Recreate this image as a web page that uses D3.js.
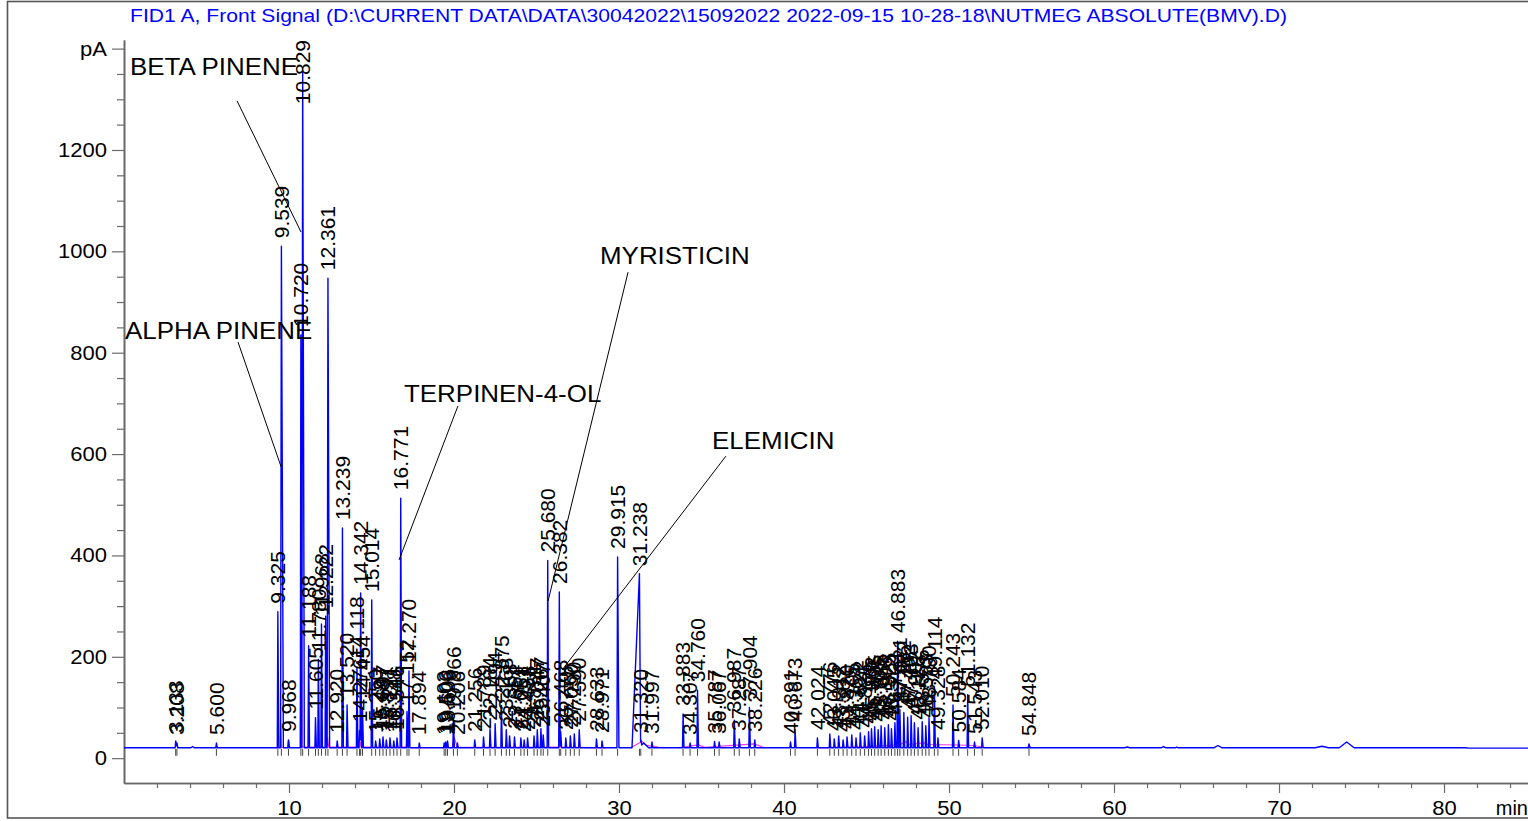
<!DOCTYPE html>
<html><head><meta charset="utf-8">
<script src="https://cdn.jsdelivr.net/npm/d3@7"></script>
<style>
body{margin:0;background:#fff}
svg{display:block}
text{font-family:"Liberation Sans",Arial,Helvetica,sans-serif}
</style>
</head><body>
<svg id="chart" width="1528" height="821"></svg>
<script>
// ---------------- DATA ----------------
const titleText = "FID1 A, Front Signal (D:\\CURRENT DATA\\DATA\\30042022\\15092022 2022-09-15 10-28-18\\NUTMEG ABSOLUTE(BMV).D)";
const yTickValues = [0, 200, 400, 600, 800, 1000, 1200, 1400];
const yTickLabels = ["0", "200", "400", "600", "800", "1000", "1200", "pA"];
const xTickValues = [10, 20, 30, 40, 50, 60, 70, 80];
const xUnit = "min";

// labelled peaks: retention time (min) and apex signal (pA)
const peakRT = [3.133,3.208,5.600,
  9.325,9.539,9.968,10.720,10.829,11.188,11.605,11.780,11.968,12.222,12.361,12.920,13.239,13.520,14.118,14.276,14.342,14.454,15.014,15.250,15.497,15.697,15.897,16.121,16.348,16.546,16.771,17.152,17.270,17.894,
  19.403,19.500,19.606,19.966,20.206,21.256,21.789,22.184,22.494,22.875,23.168,23.368,23.664,24.051,24.251,24.458,24.851,25.047,25.267,25.407,25.680,26.382,26.468,26.775,27.050,27.290,27.590,28.633,28.971,29.915,31.238,31.320,31.997,
  33.883,34.307,34.760,35.787,36.067,36.987,37.287,37.904,38.226,
  40.391,40.673,42.024,42.776,43.045,43.312,43.582,43.820,44.105,44.364,44.622,44.885,45.125,45.302,45.495,45.705,45.885,46.105,46.325,46.512,46.721,46.883,47.021,47.262,47.492,47.703,47.902,48.126,48.376,48.593,48.790,49.114,49.328,50.243,50.584,51.132,51.543,52.010,54.848];
const peakHeight = [34,30,30,
  289,1010,36,835,1354,222,80,195,265,280,947,34,454,105,180,55,326,100,312,34,38,42,36,40,34,40,513,92,172,30,
  30,32,34,78,30,36,42,58,68,100,56,44,42,40,36,40,44,56,58,46,390,328,52,40,44,48,56,38,34,397,363,34,32,
  87,30,134,33,32,75,38,100,36,
  32,56,40,48,38,44,36,42,46,40,50,44,52,58,62,56,64,60,66,58,70,231,96,90,81,84,70,60,72,64,80,140,40,105,35,125,32,40,28];

// peaks with a non-default shape (left / right half width, min)
const shapeRT    = [9.539, 10.829, 12.361, 29.915, 31.238];
const shapeLeft  = [0.05,  0.05,   0.05,   0.04,   0.45];
const shapeRight = [0.12,  0.10,   0.10,   0.08,   0.07];

// small unlabelled bumps
const bumpRT     = [4.16, 31.50, 60.8, 63.0, 63.8, 66.3, 72.6, 74.1];
const bumpHeight = [23,   30,    22,   23,   22,   25,   23.5, 32];
const bumpWidth  = [0.10, 0.30,  0.15, 0.15, 0.10, 0.25, 0.40, 0.45];

// detector baseline
const baseRT    = [0, 81.3, 81.5, 85.09];
const baseValue = [20.5, 20.5, 19.8, 19.8];

// integration baselines (magenta), one polyline per cluster
const magentaClusters = [
  [[9.20,20.5],[9.47,21],[9.50,69],[9.55,21],[9.92,21],[9.97,36],[10.05,21],[10.69,21],[10.74,377],[10.79,22],[12.29,22],[12.33,42],[12.40,22],[14.29,22],[14.33,32],[14.40,22],[17.10,22],[17.15,36],[17.25,21],[18.0,20.5]],
  [[19.3,20.5],[19.9,21],[20.0,42],[20.2,22],[24.0,21.5],[26.4,22],[29.2,20.5]],
  [[30.70,20.5],[31.40,33],[31.60,26],[32.40,22]],
  [[33.6,20.5],[34.8,26],[35.2,21.5],[38.2,28],[38.8,20.5]],
  [[42.0,20.5],[45.0,23],[46.85,26],[46.9,42],[46.95,26],[47.4,33],[47.5,27],[48.5,30],[48.7,27],[50.5,26],[51.5,25],[52.3,20.5]],
  [[54.75,20.5],[54.85,26],[54.95,20.5]]
];

// compound annotations: label anchor and leader line (min, pA)
const annNames  = ["BETA PINENE", "ALPHA PINENE", "TERPINEN-4-OL", "MYRISTICIN", "ELEMICIN"];
const annLabel  = [[0.36,1348], [0.06,827], [16.97,703], [28.85,975], [35.64,610]];
const annFrom   = [[6.85,1297], [6.91,821], [20.24,695], [30.55,959], [36.48,596]];
const annTo     = [[10.73,1038],[9.52,575], [16.67,391], [25.70,310], [26.55,174]];

// ---------------- CHART ----------------
const svg = d3.select("#chart");
const x = d3.scaleLinear().domain([0, 85.09]).range([124, 1528]);
const y = d3.scaleLinear().domain([-49, 1417]).range([783, 40]);
const axisColor = "#6a6a6a";
const STRETCH = 1.1;   // the plotted font is slightly wider than Arial

function stretch(sel, f){
  sel.each(function(){
    const len = this.getComputedTextLength();
    d3.select(this).attr("textLength", len * f).attr("lengthAdjust", "spacingAndGlyphs");
  });
}

// outer frame
svg.append("rect").attr("x", 7.5).attr("y", 1.5).attr("width", 1535).attr("height", 816.5)
  .attr("fill", "none").attr("stroke", "#555").attr("stroke-width", 1.6);

// title
svg.append("text").attr("x", 130).attr("y", 21.5).attr("fill", "#0000ff")
  .attr("font-size", 19).text(titleText)
  .attr("textLength", 1157).attr("lengthAdjust", "spacingAndGlyphs");

// axes
function styleAxis(g){
  g.select(".domain").attr("stroke", axisColor).attr("stroke-width", 1.6);
  g.selectAll(".tick line").attr("stroke", axisColor).attr("stroke-width", 1.2);
  g.selectAll(".tick text").attr("fill", "#000").attr("font-family", '"Liberation Sans",Arial,sans-serif');
}
const yMinor = d3.range(0, 1401, 50).filter(v => v % 200 !== 0);
svg.append("g").attr("transform", "translate(124,0)")
  .call(d3.axisLeft(y).tickValues(yMinor).tickSize(7).tickSizeOuter(0).tickFormat(""))
  .call(styleAxis);
svg.append("g").attr("transform", "translate(124,0)")
  .call(d3.axisLeft(y).tickValues(yTickValues).tickSize(12).tickSizeOuter(0).tickPadding(5)
    .tickFormat((d, i) => yTickLabels[i]))
  .call(styleAxis)
  .call(g => g.selectAll(".tick text").attr("font-size", 20).call(stretch, STRETCH));

const xMinor = d3.range(2, 85, 2).filter(v => v % 10 !== 0);
svg.append("g").attr("transform", "translate(0,783)")
  .call(d3.axisBottom(x).tickValues(xMinor).tickSize(5).tickSizeOuter(0).tickFormat(""))
  .call(styleAxis);
svg.append("g").attr("transform", "translate(0,783)")
  .call(d3.axisBottom(x).tickValues(xTickValues).tickSize(10).tickSizeOuter(0).tickPadding(8))
  .call(styleAxis)
  .call(g => g.selectAll(".tick text").attr("font-size", 20).call(stretch, STRETCH));
svg.append("text").attr("x", x.range()[1]).attr("y", 815).attr("font-size", 20)
  .attr("text-anchor", "end").attr("fill", "#000").text(xUnit);

// signal trace
function baseAt(t){
  for (let i = 1; i < baseRT.length; i++) {
    if (t <= baseRT[i]) {
      const f = (t - baseRT[i-1]) / (baseRT[i] - baseRT[i-1]);
      return baseValue[i-1] + f * (baseValue[i] - baseValue[i-1]);
    }
  }
  return baseValue[baseValue.length - 1];
}
const shapes = peakRT.map((rt, i) => {
  const k = shapeRT.indexOf(rt);
  return {c: rt, amp: peakHeight[i] - baseAt(rt),
    wl: k >= 0 ? shapeLeft[k] : 0.035, wr: k >= 0 ? shapeRight[k] : 0.055};
}).concat(bumpRT.map((rt, i) => ({c: rt, amp: bumpHeight[i] - baseAt(rt), wl: bumpWidth[i], wr: bumpWidth[i]})));

function signalAt(t){
  let s = baseAt(t);
  for (const p of shapes) {
    if (t >= p.c - p.wl && t <= p.c) s += p.amp * (1 - (p.c - t) / p.wl);
    else if (t > p.c && t <= p.c + p.wr) s += p.amp * (1 - (t - p.c) / p.wr);
  }
  return s;
}
let knots = baseRT.slice();
shapes.forEach(p => knots.push(p.c - p.wl, p.c, p.c + p.wr));
knots = Array.from(new Set(knots.map(k => +k.toFixed(4)))).sort((a, b) => a - b)
  .filter(k => k >= 0 && k <= 85.09);
const trace = knots.map(t => [t, signalAt(t)]);

const line = d3.line().x(d => x(d[0])).y(d => y(d[1]));

// integration baselines
svg.append("g").selectAll("path").data(magentaClusters).join("path")
  .attr("d", line).attr("fill", "none").attr("stroke", "#f03cf0").attr("stroke-width", 1.2);

svg.append("path").attr("d", line(trace)).attr("fill", "none")
  .attr("stroke", "#0000ff").attr("stroke-width", 1.4).attr("stroke-linejoin", "round");

// event ticks under the baseline
svg.append("g").selectAll("line").data(peakRT).join("line")
  .attr("x1", d => x(d)).attr("x2", d => x(d))
  .attr("y1", d => y(baseAt(d)) + 1).attr("y2", d => y(baseAt(d)) + 8)
  .attr("stroke", "#444").attr("stroke-width", 1);

// peak retention-time labels
const labelG = svg.append("g");
peakRT.forEach((rt, i) => {
  const t = labelG.append("text").attr("font-size", 20).attr("fill", "#000")
    .attr("dy", "0.36em").text(rt.toFixed(3));
  const len = t.node().getComputedTextLength() * 1.05;
  t.attr("textLength", len).attr("lengthAdjust", "spacingAndGlyphs");
  let yb = y(peakHeight[i]) - 8;
  if (yb - len < y.range()[1]) yb = y.range()[1] + len;
  t.attr("transform", `translate(${x(rt)},${yb}) rotate(-90)`);
});

// compound annotations
const annG = svg.append("g");
annNames.forEach((name, i) => {
  annG.append("line")
    .attr("x1", x(annFrom[i][0])).attr("y1", y(annFrom[i][1]))
    .attr("x2", x(annTo[i][0])).attr("y2", y(annTo[i][1]))
    .attr("stroke", "#000").attr("stroke-width", 1);
  annG.append("text").attr("x", x(annLabel[i][0])).attr("y", y(annLabel[i][1]))
    .attr("font-size", 24).attr("fill", "#000").text(name).call(stretch, 1.08);
});
</script>
</body></html>
